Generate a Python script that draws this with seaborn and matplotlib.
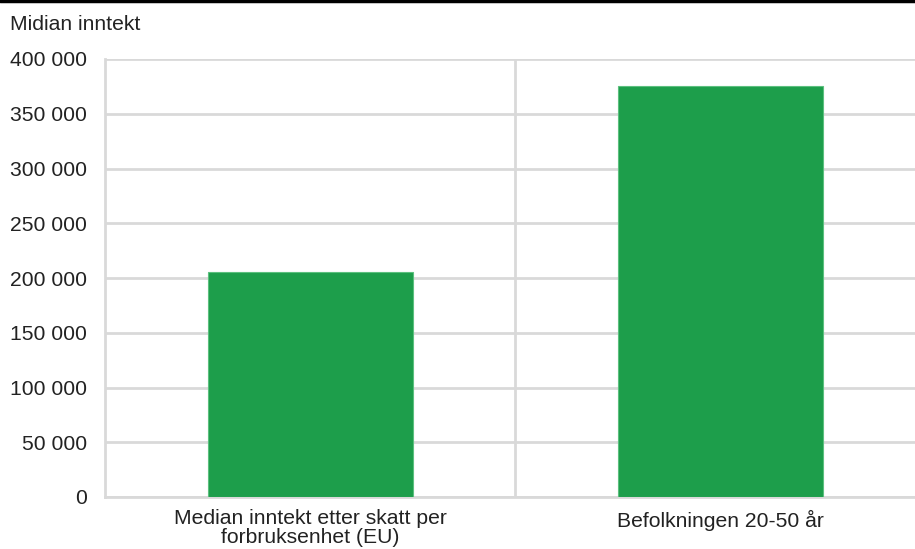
import matplotlib
matplotlib.use("Agg")
import numpy as np
import pandas as pd
import seaborn as sns
import matplotlib.pyplot as plt
from matplotlib.ticker import FuncFormatter

# Data
categories = ["Median inntekt etter skatt per\nforbruksenhet (EU)", "Befolkningen 20-50 år"]
values = [205500, 375500]
yticks = [0, 50000, 100000, 150000, 200000, 250000, 300000, 350000, 400000]

df = pd.DataFrame({"kategori": categories, "verdi": values})

sns.set_style("white")
plt.rcParams["font.family"] = ["Liberation Sans", "DejaVu Sans"]

grid_color = "#d9d9d9"
bar_color = "#1d9e4b"
text_color = "#222222"
fs = 15.2

fig = plt.figure(figsize=(9.15, 5.49), dpi=100)
ax = fig.add_axes([105 / 915, 1 - 497 / 549, 820 / 915, (497 - 59) / 549])

sns.barplot(data=df, x="kategori", y="verdi", color=bar_color, width=0.5,
            saturation=1, edgecolor="#5cc07f", linewidth=0.8, ax=ax, zorder=3)

ax.set_xlim(-0.5, 1.5)
ax.set_ylim(0, 400000)
ax.set_yticks(yticks)
ax.yaxis.set_major_formatter(FuncFormatter(lambda v, p: f"{int(v):,}".replace(",", " ")))

ax.grid(axis="y", color=grid_color, linewidth=2, zorder=0)
ax.axvline(0.5, color=grid_color, linewidth=2, zorder=0)

for side in ["top", "right"]:
    ax.spines[side].set_visible(False)
for side in ["left", "bottom"]:
    ax.spines[side].set_color(grid_color)
    ax.spines[side].set_linewidth(2)

ax.tick_params(axis="both", length=0, labelsize=fs, colors=text_color)
ax.tick_params(axis="y", pad=13)
ax.tick_params(axis="x", pad=9)
for lbl in ax.get_xticklabels():
    lbl.set_linespacing(0.95)
ax.set_xlabel("")
ax.set_ylabel("")

fig.text(10 / 915, 1 - 24 / 549, "Midian inntekt", fontsize=fs, color=text_color, va="center", ha="left")

# black rule at the very top
fig.add_artist(plt.Line2D([0, 1], [0.998, 0.998], color="black", linewidth=2.5, transform=fig.transFigure))

fig.savefig("out.png", dpi=100)
